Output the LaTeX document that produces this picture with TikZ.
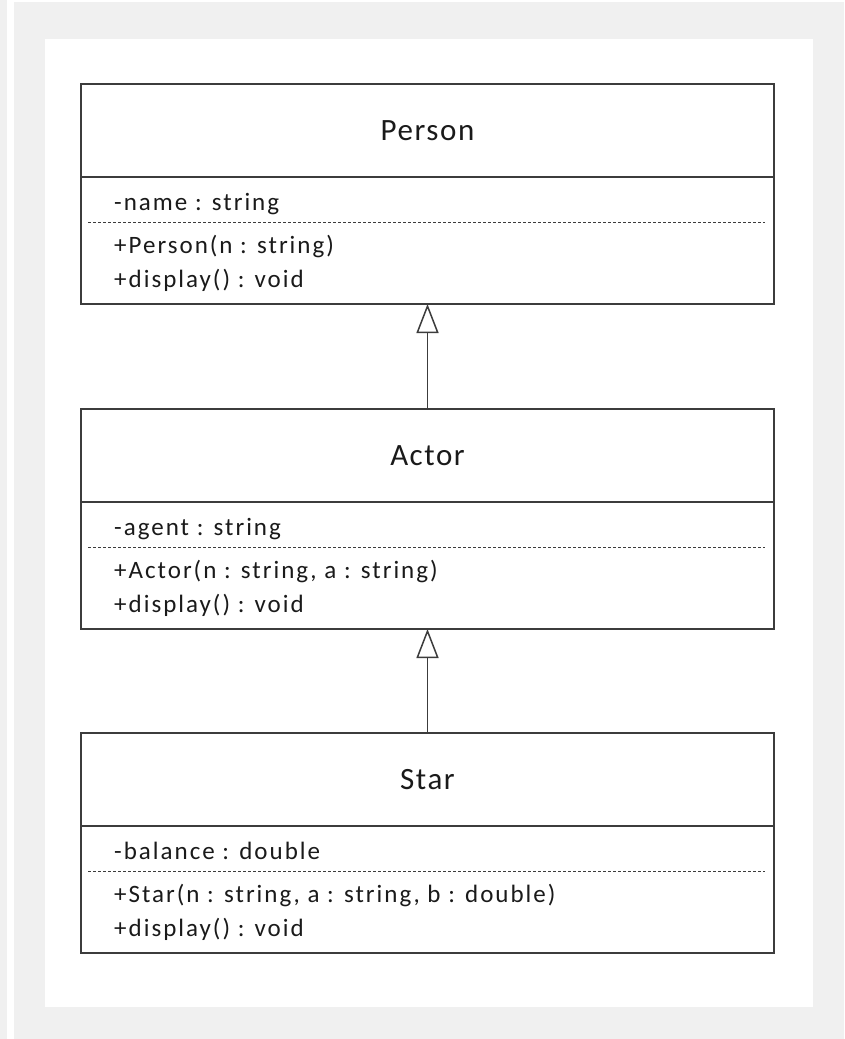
\documentclass[tikz,border=0pt]{standalone}
\usepackage{fontspec}
\setmainfont{Carlito}
\newfontfamily\linefont[LetterSpace=8]{Carlito}
\newfontfamily\titlefont[LetterSpace=5]{Carlito}
\usetikzlibrary{arrows.meta}
\definecolor{bggray}{HTML}{F0F0F0}
\definecolor{linecol}{HTML}{3C3C3C}
\definecolor{txtcol}{HTML}{1A1A1A}
\newcommand\umlclass[6]{%
  \node[classbox, anchor=north] (#1) at (427.5,#2) {};
  \node[titletext] (#1-title) at ([yshift=-56pt]#1.north) {#3};
  \draw[divider] ([yshift=-93pt]#1.north west) -- ([yshift=-93pt]#1.north east);
  \draw[sepline] ([xshift=7pt,yshift=-138pt]#1.north west) -- ([xshift=-9pt,yshift=-138pt]#1.north east);
  \node[membertext] (#1-attr) at ([xshift=33pt,yshift=-126pt]#1.north west) {#4};
  \node[membertext] (#1-op1) at ([xshift=33pt,yshift=-169pt]#1.north west) {#5};
  \node[membertext] (#1-op2) at ([xshift=33pt,yshift=-203pt]#1.north west) {#6};
}
\begin{document}
\begin{tikzpicture}[x=1pt,y=-1pt,
  classbox/.style={draw=linecol, line width=1.5pt, fill=white, minimum width=693pt, minimum height=220pt, inner sep=0pt, outer sep=0pt},
  divider/.style={draw=linecol, line width=1.5pt},
  sepline/.style={draw=linecol, line width=1pt, dash pattern=on 3pt off 2pt},
  titletext/.style={anchor=base, inner sep=0pt, text=txtcol, font=\titlefont\fontsize{31}{36}\selectfont},
  membertext/.style={anchor=base west, inner sep=0pt, text=txtcol, font=\linefont\fontsize{25}{30}\selectfont},
  inherit/.style={draw=linecol, line width=1.5pt, -{Triangle[open, length=29pt, width=22pt, fill=white]}}
]
\useasboundingbox (0,0) rectangle (844,1039);
\fill[bggray] (0,0) rectangle (844,1039);
\fill[white] (7,0) rectangle (14,1039);
\fill[white] (7,0) rectangle (844,2);
\fill[white] (45,39) rectangle (813,1007);
\umlclass{person}{84}{Person}{-name : string}{+Person(n : string)}{+display() : void}
\umlclass{actor}{409}{Actor}{-agent : string}{+Actor(n : string, a : string)}{+display() : void}
\umlclass{star}{733}{Star}{-balance : double}{+Star(n : string, a : string, b : double)}{+display() : void}
\draw[inherit] (actor.north) -- (person.south);
\draw[inherit] (star.north) -- (actor.south);
\end{tikzpicture}
\end{document}
